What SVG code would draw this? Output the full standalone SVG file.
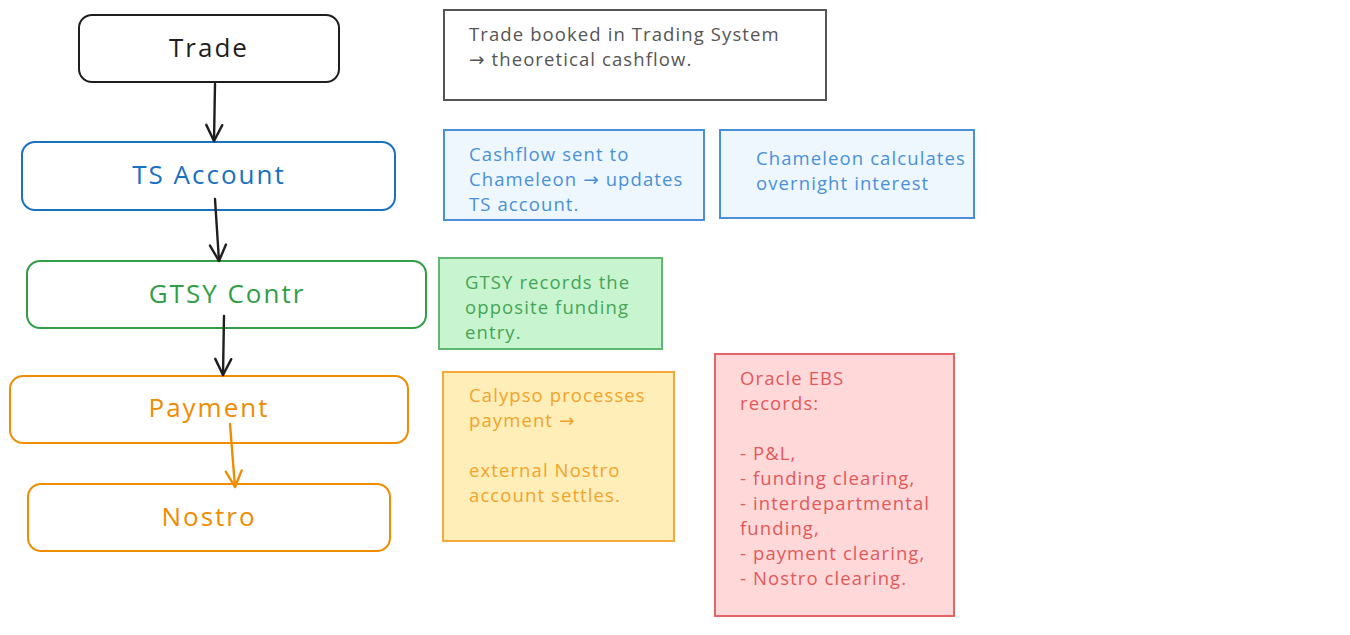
<svg xmlns="http://www.w3.org/2000/svg" width="1350" height="635" viewBox="0 0 1350 635">
<style>
.node rect{fill:#ffffff;stroke-width:2}
.lbl{font-family:"Open Sans","DejaVu Sans",sans-serif;font-size:26px;letter-spacing:2px;text-anchor:middle}
.note{font-family:"Open Sans","DejaVu Sans",sans-serif;font-size:18.5px;letter-spacing:1.1px}
.conn{fill:none;stroke-width:2.4;stroke-linecap:round}
</style>
<defs>
<marker id="ahK" viewBox="0 0 20 20" refX="18" refY="10" markerWidth="20" markerHeight="20" markerUnits="userSpaceOnUse" orient="auto">
<path d="M2,2 L18,10 L2,18" fill="none" stroke="#1e1e1e" stroke-width="2.4" stroke-linecap="round" stroke-linejoin="round"/>
</marker>
<marker id="ahO" viewBox="0 0 20 20" refX="18" refY="10" markerWidth="20" markerHeight="20" markerUnits="userSpaceOnUse" orient="auto">
<path d="M2,2 L18,10 L2,18" fill="none" stroke="#f08c00" stroke-width="2.4" stroke-linecap="round" stroke-linejoin="round"/>
</marker>
</defs>
<rect width="1350" height="635" fill="#ffffff"/>

<g id="note-trade">
<rect x="444" y="10" width="382" height="90" fill="#ffffff" stroke="#555555" stroke-width="2"/>
<text class="note" fill="#555555"><tspan x="469" y="41">Trade booked in Trading System</tspan><tspan x="469" y="66">→ theoretical cashflow.</tspan></text>
</g>
<g id="note-cashflow">
<rect x="444" y="130" width="260" height="90" fill="#eef7fe" stroke="#4a90d9" stroke-width="2"/>
<text class="note" fill="#4a90d9"><tspan x="469" y="161">Cashflow sent to</tspan><tspan x="469" y="186">Chameleon → updates</tspan><tspan x="469" y="211">TS account.</tspan></text>
</g>
<g id="note-interest">
<rect x="720" y="130" width="254" height="88" fill="#eef7fe" stroke="#4a90d9" stroke-width="2"/>
<text class="note" fill="#4a90d9"><tspan x="756" y="165">Chameleon calculates</tspan><tspan x="756" y="190">overnight interest</tspan></text>
</g>
<g id="note-gtsy">
<rect x="439" y="258" width="223" height="91" fill="#c8f5d0" stroke="#62b872" stroke-width="2"/>
<text class="note" fill="#44a556"><tspan x="465" y="289">GTSY records the</tspan><tspan x="465" y="314">opposite funding</tspan><tspan x="465" y="339">entry.</tspan></text>
</g>
<g id="note-calypso">
<rect x="443" y="372" width="231" height="169" fill="#ffeeb8" stroke="#f5a93a" stroke-width="2"/>
<text class="note" fill="#f3a32a"><tspan x="469" y="402">Calypso processes</tspan><tspan x="469" y="427">payment →</tspan><tspan x="469" y="477">external Nostro</tspan><tspan x="469" y="502">account settles.</tspan></text>
</g>
<g id="note-oracle">
<rect x="715" y="354" width="239" height="262" fill="#ffd8da" stroke="#e86464" stroke-width="2"/>
<text class="note" fill="#e35858"><tspan x="740" y="385">Oracle EBS</tspan><tspan x="740" y="410">records:</tspan><tspan x="740" y="460">- P&amp;L,</tspan><tspan x="740" y="485">- funding clearing,</tspan><tspan x="740" y="510">- interdepartmental</tspan><tspan x="740" y="535">funding,</tspan><tspan x="740" y="560">- payment clearing,</tspan><tspan x="740" y="585">- Nostro clearing.</tspan></text>
</g>

<g id="node-trade" class="node">
<rect x="79" y="15" width="260" height="67" rx="13" stroke="#1e1e1e"/>
<text class="lbl" x="209" y="57" fill="#1e1e1e">Trade</text>
</g>
<g id="node-ts" class="node">
<rect x="22" y="142" width="373" height="68" rx="13" stroke="#1971c2"/>
<text class="lbl" x="209" y="184" fill="#1971c2">TS Account</text>
</g>
<g id="node-gtsy" class="node">
<rect x="27" y="261" width="399" height="67" rx="13" stroke="#2f9e44"/>
<text class="lbl" x="227" y="303" fill="#2f9e44">GTSY Contr</text>
</g>
<g id="node-payment" class="node">
<rect x="10" y="376" width="398" height="67" rx="13" stroke="#f08c00"/>
<text class="lbl" x="209" y="417" fill="#f08c00">Payment</text>
</g>
<g id="node-nostro" class="node">
<rect x="28" y="484" width="362" height="67" rx="13" stroke="#f08c00"/>
<text class="lbl" x="209" y="526" fill="#f08c00">Nostro</text>
</g>

<g id="connectors">
<path class="conn" d="M215,84 L214,141" stroke="#1e1e1e" marker-end="url(#ahK)"/>
<path class="conn" d="M215,199 L219,261" stroke="#1e1e1e" marker-end="url(#ahK)"/>
<path class="conn" d="M224,316 L223,375" stroke="#1e1e1e" marker-end="url(#ahK)"/>
<path class="conn" d="M230,424 L235,487" stroke="#f08c00" marker-end="url(#ahO)"/>
</g>
</svg>
